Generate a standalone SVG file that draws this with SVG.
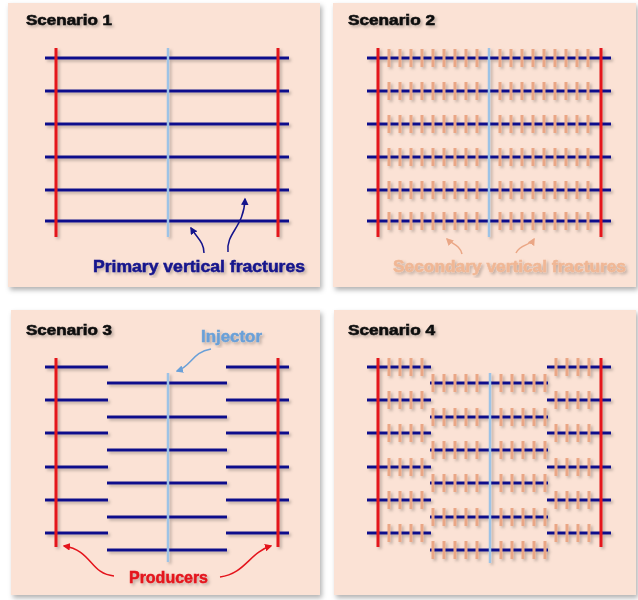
<svg xmlns="http://www.w3.org/2000/svg" width="638" height="600" viewBox="0 0 638 600">
<defs>
<filter id="pshadow" x="-5%" y="-5%" width="115%" height="115%"><feDropShadow dx="2" dy="3" stdDeviation="2.5" flood-color="#000" flood-opacity="0.3"/></filter>
<filter id="soft" x="-5%" y="-5%" width="115%" height="115%"><feDropShadow dx="2" dy="2" stdDeviation="1.5" flood-color="#000" flood-opacity="0.25"/></filter>
<marker id="ahBlue" viewBox="0 0 10 10" refX="8" refY="5" markerWidth="5" markerHeight="5" orient="auto"><path d="M0,0 L10,5 L0,10 z" fill="#14148c"/></marker>
<marker id="ahSal" viewBox="0 0 10 10" refX="8" refY="5" markerWidth="5" markerHeight="5" orient="auto"><path d="M0,0 L10,5 L0,10 z" fill="#eaa685"/></marker>
<marker id="ahLb" viewBox="0 0 10 10" refX="8" refY="5" markerWidth="5" markerHeight="5" orient="auto"><path d="M0,0 L10,5 L0,10 z" fill="#6aa0d8"/></marker>
<marker id="ahRed" viewBox="0 0 10 10" refX="8" refY="5" markerWidth="5" markerHeight="5" orient="auto"><path d="M0,0 L10,5 L0,10 z" fill="#e4141c"/></marker>
</defs>
<style>
.panel{fill:#fbe2d5;filter:url(#pshadow)}
.frac{stroke:#11118c;stroke-width:3;fill:none}
.prod{stroke:#e4141c;stroke-width:3;fill:none}
.inj{stroke:#9dc3e6;stroke-width:2.5;fill:none}
.tick{stroke:#eaa685;stroke-width:18;stroke-dasharray:3 8;fill:none}
.title{font-family:"Liberation Sans",Arial,sans-serif;font-weight:bold;font-size:14.5px;fill:#111;stroke:#111;stroke-width:0.6}
.lbl{font-family:"Liberation Sans",Arial,sans-serif;font-weight:bold;font-size:17px;stroke-width:0.5}
.conn{fill:none;stroke-width:1.5}
</style>
<rect width="638" height="600" fill="#fff"/>

<g id="scenario1">
<rect class="panel" x="8" y="3" width="312" height="284"/>
<text class="title" x="26" y="25" textLength="86" lengthAdjust="spacingAndGlyphs" filter="url(#soft)">Scenario 1</text>
<g filter="url(#soft)">
<path class="frac" d="M45,58H289M45,91H289M45,124H289M45,157H289M45,190H289M45,221H289"/>
<path class="prod" d="M56,48V237M278,48V237"/>
<path class="inj" d="M168,48V237"/>
</g>
<text class="lbl" x="93" y="272" fill="#14148c" stroke="#14148c" textLength="212" lengthAdjust="spacingAndGlyphs" filter="url(#soft)">Primary vertical fractures</text>
</g>

<g id="scenario2">
<rect class="panel" x="333" y="3" width="303" height="284"/>
<text class="title" x="348" y="25" textLength="87" lengthAdjust="spacingAndGlyphs" filter="url(#soft)">Scenario 2</text>
<g filter="url(#soft)">
<path class="frac" d="M367,58H611M367,91H611M367,124H611M367,157H611M367,190H611M367,221H611"/>
<path class="prod" d="M378,48V237M601,48V237"/>
<path class="inj" d="M489,48V237"/>
<path class="tick" d="M387.5,58H479M498.5,58H590M387.5,91H479M498.5,91H590M387.5,124H479M498.5,124H590M387.5,157H479M498.5,157H590M387.5,190H479M498.5,190H590M387.5,221H479M498.5,221H590"/>
</g>
<text class="lbl" x="393" y="272" fill="#f0b795" stroke="#f0b795" textLength="233" lengthAdjust="spacingAndGlyphs" filter="url(#soft)">Secondary vertical fractures</text>
</g>

<g id="scenario3">
<rect class="panel" x="11" y="310" width="309" height="285"/>
<text class="title" x="26" y="335" textLength="86" lengthAdjust="spacingAndGlyphs" filter="url(#soft)">Scenario 3</text>
<g filter="url(#soft)">
<path class="frac" d="M45,367H108M45,400H108M45,433H108M45,467H108M45,500H108M45,533H108"/>
<path class="frac" d="M226,367H289M226,400H289M226,433H289M226,467H289M226,500H289M226,533H289"/>
<path class="frac" d="M107,383H227M107,417H227M107,450H227M107,483H227M107,517H227M107,550H227"/>
<path class="prod" d="M56,358V547M278,358V547"/>
<path class="inj" d="M168,373V562"/>
</g>
<text class="lbl" x="201" y="342" fill="#6aa0d8" stroke="#6aa0d8" textLength="61" lengthAdjust="spacingAndGlyphs" filter="url(#soft)">Injector</text>
<text class="lbl" x="129" y="583" fill="#e4141c" stroke="#e4141c" textLength="79" lengthAdjust="spacingAndGlyphs" filter="url(#soft)">Producers</text>
</g>

<g id="scenario4">
<rect class="panel" x="334" y="310" width="302" height="285"/>
<text class="title" x="348" y="335" textLength="87" lengthAdjust="spacingAndGlyphs" filter="url(#soft)">Scenario 4</text>
<g filter="url(#soft)">
<path class="frac" d="M367,367H431M367,400H431M367,433H431M367,467H431M367,500H431M367,533H431"/>
<path class="frac" d="M547,367H611M547,400H611M547,433H611M547,467H611M547,500H611M547,533H611"/>
<path class="frac" d="M430,383H548M430,417H548M430,450H548M430,483H548M430,517H548M430,550H548"/>
<path class="prod" d="M378,358V547M601,358V547"/>
<path class="inj" d="M490,373V563"/>
<path class="tick" d="M387.5,367H424M554.5,367H591M387.5,400H424M554.5,400H591M387.5,433H424M554.5,433H591M387.5,467H424M554.5,467H591M387.5,500H424M554.5,500H591M387.5,533H424M554.5,533H591"/>
<path class="tick" d="M431.5,383H479M499.5,383H547M431.5,417H479M499.5,417H547M431.5,450H479M499.5,450H547M431.5,483H479M499.5,483H547M431.5,517H479M499.5,517H547M431.5,550H479M499.5,550H547"/>
</g>
</g>

<g id="connectors">
<path class="conn" stroke="#14148c" marker-end="url(#ahBlue)" d="M204,253 C204,242 197,238 191,228"/>
<path class="conn" stroke="#14148c" marker-end="url(#ahBlue)" d="M228,252 C226,232 244,228 245,199"/>
<path class="conn" stroke="#eaa685" marker-end="url(#ahSal)" d="M462,254 C460,245 452,244 447,239"/>
<path class="conn" stroke="#eaa685" marker-end="url(#ahSal)" d="M516,253 C520,244 530,246 534,239"/>
<path class="conn" stroke="#6aa0d8" marker-end="url(#ahLb)" d="M211,349 C192,352 192,366 177,371"/>
<path class="conn" stroke="#e4141c" marker-end="url(#ahRed)" d="M114,576 C90,574 92,550 64,546"/>
<path class="conn" stroke="#e4141c" marker-end="url(#ahRed)" d="M220,577 C245,574 250,552 271,546"/>
</g>
</svg>
